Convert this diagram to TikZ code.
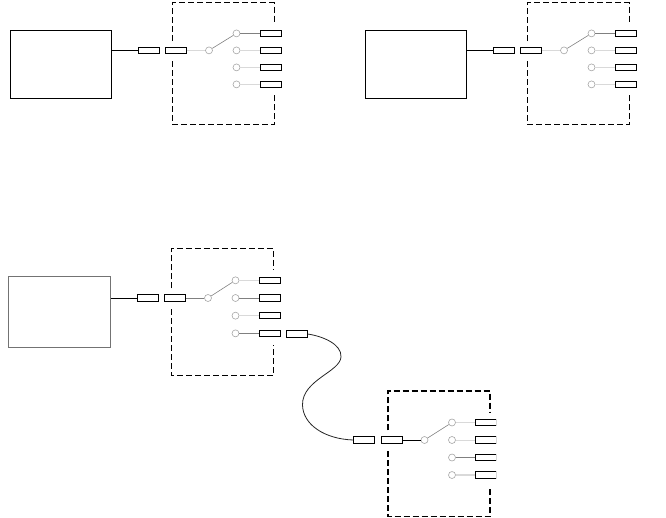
\documentclass[tikz,border=0pt]{standalone}
\usepackage{tikz}
\begin{document}
\begin{tikzpicture}
  [x=1pt, y=-1pt,
   block/.style={rectangle, draw=black, line width=.9pt, fill=white, inner sep=0pt, minimum width=101.5pt, minimum height=68.5pt},
   port/.style={rectangle, draw=black, line width=.9pt, fill=white, inner sep=0pt, minimum width=21pt, minimum height=6.5pt},
   contact/.style={circle, draw=black!35, line width=.6pt, fill=white, inner sep=0pt, minimum size=7pt},
   enclosure/.style={draw=black, dash pattern=on 6pt off 3pt},
   wire/.style={line width=.9pt, draw=black},
   offwire/.style={line width=.8pt, draw=black!15},
   onwire/.style={line width=.8pt, draw=black!50}]
  \useasboundingbox (0,0) rectangle (666,518);

  % Unidades con caja
  \node[block] (a0) at (61,64.5) {};
  \node[block] (b0) at (416,64.5) {};
  \node[block, draw=black!55, minimum width=102pt, minimum height=71pt] (c0) at (59.3,311.7) {};

  % Puertos, contactos y recinto
  \foreach \name/\dx/\dy/\sy/\lw in {a/0/50.4/1/.9, b/355/50.4/1/.9, c/-1/298/1.04/1.2, d/215.5/440/1.03/1.2} {
    \begin{scope}[shift={(\dx,\dy)}, yscale=\sy]
      \draw[enclosure, line width=\lw pt] (172.5,-9.3) -- (172.5,-47.5) -- (274.5,-47.5) -- (274.5,-27.3);
      \draw[enclosure, line width=\lw pt] (172.5,11) -- (172.5,74.5) -- (274.5,74.5) -- (274.5,45);
      \node[port] (\name p1) at (148.5,0) {};
      \node[port] (\name p2) at (176,0) {};
      \node[contact] (\name s) at (209,0) {};
      \foreach \i/\y in {1/-17, 2/0, 3/17, 4/34} {
        \node[contact] (\name c\i) at (236.5,\y) {};
        \node[port] (\name o\i) at (270.5,\y) {};
      }
      \draw[onwire, line width=.6pt] (\name s) -- (\name c1);
    \end{scope}
  }

  % Cables negros
  \foreach \from/\to in {a0/ap1, b0/bp1, c0/cp1}
    \draw[wire] (\from.east |- \to) -- (\to);
  \draw[wire] (dp2) -- (ds);

  % Cables de contacto claros
  \foreach \from/\to in {ap2/as, ac2/ao2, ac3/ao3, ac4/ao4,
                         bp2/bs, bc2/bo2, bc3/bo3, bc4/bo4,
                         cc1/co1, cc3/co3,
                         dc1/do1, dc2/do2}
    \draw[offwire] (\from) -- (\to);
  \draw[offwire, line width=1.6pt] (dc4) -- (do4);

  % Cables de contacto activos
  \foreach \from/\to in {ac1/ao1, bc1/bo1, cp2/cs, cc2/co2, cc4/co4, dc3/do3}
    \draw[onwire] (\from) -- (\to);

  % Borde claro de los puertos de salida
  \foreach \to in {do1, do2, do3, do4}
    \draw[line width=1pt, black!15] (\to.north east) -- (\to.south east);

  % Puerto extra y cable curvo
  \node[port] (cx) at (296.5,334) {};
  \draw[line width=.8pt, black!85] (cx.east) .. controls (322,336) and (342,344) .. (341,357)
    .. controls (340,372) and (302,380) .. (302.5,405)
    .. controls (303,425) and (325,439) .. (dp1.west);
\end{tikzpicture}
\end{document}
